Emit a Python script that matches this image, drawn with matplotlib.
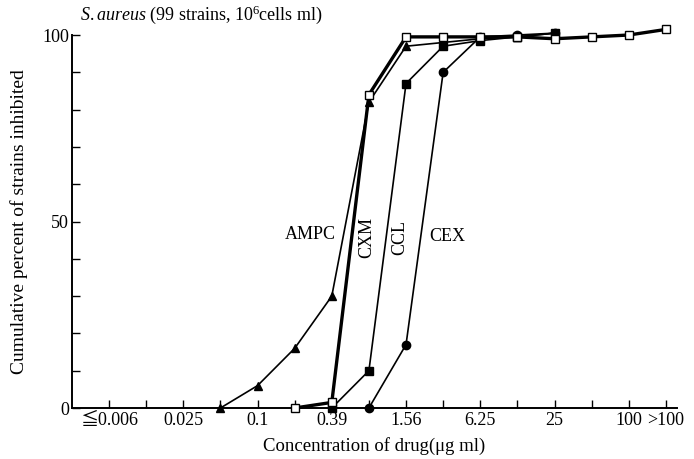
import numpy as np
import matplotlib
matplotlib.use('Agg')
from matplotlib import pyplot as plt

# dilution levels (doubling series), ticks at every step
levels = ['≦0.006', '0.012', '0.025', '0.05', '0.1', '0.2', '0.39', '0.78',
          '1.56', '3.13', '6.25', '12.5', '25', '50', '100', '>100']
shownLabels = ['≦0.006', '0.025', '0.1', '0.39', '1.56', '6.25', '25', '100', '>100']

# cumulative percent inhibited
ampcConc = ['0.05', '0.1', '0.2', '0.39', '0.78', '1.56', '3.13', '6.25', '12.5', '25']
ampcPct = [0, 6, 16, 30, 82, 97, 98, 99, 99.5, 100.5]

cxmConc = ['0.2', '0.39', '0.78', '1.56', '3.13', '6.25', '12.5', '25', '50', '100', '>100']
cxmPct = [0, 1.5, 84, 99.5, 99.5, 99.5, 99.5, 99, 99.5, 100, 101.5]

cclConc = ['0.39', '0.78', '1.56', '3.13', '6.25', '12.5', '25']
cclPct = [0, 10, 87, 97, 98.5, 99.5, 100.5]

cexConc = ['0.78', '1.56', '3.13', '6.25', '12.5', '25']
cexPct = [0, 17, 90, 99.5, 100, 100.5]


def toIdx(concList):
    return [levels.index(c) for c in concList]


plt.rcParams['font.family'] = ['Liberation Serif', 'Noto Sans CJK JP', 'DejaVu Serif']
plt.rcParams['mathtext.fontset'] = 'custom'
plt.rcParams['mathtext.rm'] = 'Liberation Serif'
plt.rcParams['mathtext.it'] = 'Liberation Serif:italic'

fig = plt.figure(figsize=(6.94, 4.59), dpi=100)
ax = fig.add_axes([0.1037, 0.1111, 0.8718, 0.8126])

# CXM is drawn with the heavy line
ax.plot(toIdx(ampcConc), ampcPct, '-k', marker='^', ms=6, lw=1.2, clip_on=False, zorder=3)
ax.plot(toIdx(cxmConc), cxmPct, '-k', marker='s', ms=6, mfc='white', mew=1.0, lw=2.4, clip_on=False, zorder=4)
ax.plot(toIdx(cclConc), cclPct, '-k', marker='s', ms=5.5, lw=1.2, clip_on=False, zorder=3)
ax.plot(toIdx(cexConc), cexPct, '-k', marker='o', ms=6, lw=1.2, clip_on=False, zorder=3)

# curve labels
ax.text(5.42, 46.4, 'AMPC', fontsize=13, ha='center', va='center')
ax.text(6.93, 45.8, 'CXM', fontsize=13, ha='center', va='center', rotation=90)
ax.text(7.82, 45.6, 'CCL', fontsize=13, ha='center', va='center', rotation=90)
ax.text(9.1, 45.9, 'CEX', fontsize=13, ha='center', va='center')

ax.set_xlim(-1, 15.3)
ax.set_ylim(0, 100)

ax.set_xticks(range(len(levels)))
ax.set_xticklabels([l if l in shownLabels else '' for l in levels], fontsize=13)
ax.set_yticks(np.arange(0, 101, 10))
ax.set_yticklabels([str(v) if v % 50 == 0 else '' for v in range(0, 101, 10)], fontsize=13)
ax.tick_params(axis='x', direction='in', length=6, width=1, pad=3)
ax.tick_params(axis='y', direction='in', length=6, width=1, pad=2)

for side in ['top', 'right']:
    ax.spines[side].set_visible(False)
for side in ['left', 'bottom']:
    ax.spines[side].set_linewidth(1.4)

ax.set_xlabel('Concentration of drug(μg ml)', fontsize=13.5, labelpad=6)
ax.set_ylabel('Cumulative percent of strains inhibited', fontsize=14, labelpad=10)

fig.text(0.115, 0.967, r'$\it{S.aureus}$ (99 strains, 10$^6$cells ml)', fontsize=13, va='center')

fig.savefig('out.png', dpi=100)
